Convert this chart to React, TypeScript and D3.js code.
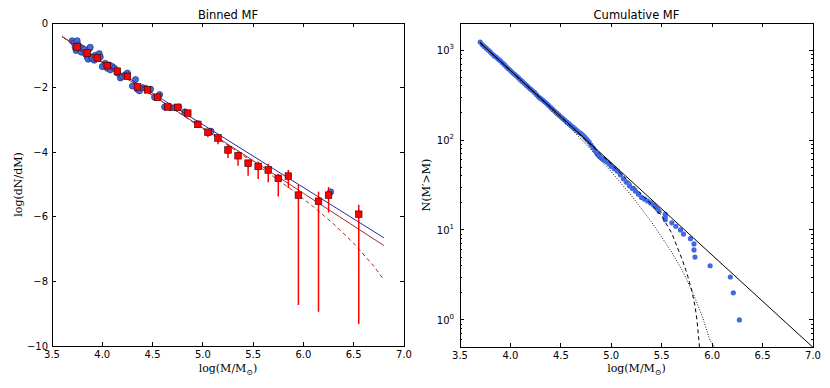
import React from 'react';
import * as d3 from 'd3';

// ---- Binned MF (left panel) ----
const binX = [3.75, 3.85, 3.95, 4.05, 4.15, 4.25, 4.35, 4.45, 4.55, 4.65, 4.75, 4.85, 4.95,
  5.05, 5.15, 5.25, 5.35, 5.45, 5.55, 5.65, 5.75, 5.85, 5.95, 6.15, 6.25, 6.55];
const binY = [-0.74, -0.93, -1.08, -1.32, -1.49, -1.65, -1.98, -2.07, -2.30, -2.60, -2.61, -2.79, -3.14,
  -3.38, -3.56, -3.93, -4.11, -4.34, -4.44, -4.55, -4.81, -4.74, -5.33, -5.52, -5.33, -5.92];
const binHi = [-0.70, -0.88, -1.03, -1.27, -1.44, -1.60, -1.93, -2.02, -2.24, -2.54, -2.54, -2.72, -3.05,
  -3.28, -3.46, -3.77, -3.98, -4.24, -4.29, -4.36, -4.67, -4.55, -5.01, -5.22, -5.08, -5.63];
const binLo = [-0.79, -0.98, -1.14, -1.38, -1.55, -1.71, -2.04, -2.13, -2.37, -2.67, -2.69, -2.87, -3.24,
  -3.54, -3.75, -4.18, -4.42, -4.73, -4.83, -4.93, -5.37, -5.11, -8.73, -8.94, -5.87, -9.32];

const ptX = [3.70, 3.72, 3.73, 3.74, 3.75, 3.76, 3.77, 3.78, 3.79, 3.80, 3.82, 3.83,
  3.85, 3.86, 3.87, 3.88, 3.89, 3.90, 3.92, 3.93, 3.95, 3.97, 3.98,
  4.00, 4.03, 4.05, 4.07, 4.08, 4.10, 4.12,
  4.15, 4.18, 4.20, 4.23, 4.25,
  4.30, 4.33, 4.35, 4.37, 4.40, 4.43, 4.48,
  4.52, 4.55, 4.57, 4.62, 4.68, 4.72, 4.76, 4.82, 4.95, 5.08, 6.27];
const ptY = [-0.55, -0.62, -0.75, -0.85, -0.55, -0.68, -0.80, -0.75, -0.90, -0.78, -0.82, -0.95,
  -1.05, -1.12, -0.80, -0.75, -1.05, -1.10, -1.15, -1.00, -1.10, -0.95, -1.05,
  -1.35, -1.25, -1.40, -1.30, -1.45, -1.35, -1.40,
  -1.55, -1.70, -1.65, -1.60, -1.55,
  -1.95, -1.75, -2.05, -2.10, -2.00, -2.02, -2.05,
  -2.30, -2.28, -2.22, -2.60, -2.62, -2.62, -2.60, -2.75, -3.12, -3.35, -5.23];

const fitX = [3.6, 6.8];
const fitBlueY = [-0.42, -6.65];
const fitRedY = [-0.42, -6.89];
const schX = [3.6, 4.0, 4.5, 5.0, 5.3, 5.5, 5.7, 5.9, 6.1, 6.3, 6.5, 6.7, 6.8];
const schY = [-0.42, -1.23, -2.24, -3.27, -3.89, -4.31, -4.75, -5.20, -5.69, -6.22, -6.82, -7.53, -7.95];

// ---- Cumulative MF (right panel) ----
const cumX = [3.70, 3.72, 3.74, 3.76, 3.78, 3.80, 3.82, 3.84, 3.86, 3.88, 3.90, 3.92, 3.94, 3.96, 3.98,
  4.00, 4.02, 4.04, 4.06, 4.08, 4.10, 4.12, 4.14, 4.16, 4.18, 4.20, 4.22, 4.24, 4.26, 4.28,
  4.30, 4.32, 4.34, 4.36, 4.38, 4.40, 4.42, 4.44, 4.46, 4.48, 4.50, 4.52, 4.54, 4.56, 4.58,
  4.60, 4.62, 4.64, 4.66, 4.68, 4.70, 4.72, 4.74, 4.76, 4.78, 4.80, 4.82, 4.84, 4.86, 4.88,
  4.90, 4.92, 4.94, 4.96, 4.98, 5.00, 5.03, 5.06, 5.09, 5.12, 5.15, 5.18, 5.21, 5.24, 5.27,
  5.30, 5.33, 5.36, 5.39, 5.42, 5.44, 5.46, 5.475,
  5.535, 5.535, 5.535, 5.60, 5.64, 5.686, 5.716, 5.785, 5.82, 5.82, 5.83, 5.98, 6.18, 6.21, 6.27];
const cumN = [1230, 1150, 1096, 1050, 1000, 955, 905, 862, 830, 795, 760, 722, 688, 652, 620,
  590, 562, 538, 515, 490, 466, 445, 425, 405, 385, 368, 352, 336, 318, 300,
  288, 278, 266, 254, 242, 230, 219, 209, 199, 190, 181, 173, 166, 158, 152,
  145, 139, 133, 127, 122, 118, 113, 107, 101, 95, 88, 82, 76, 70, 66,
  63, 61, 59, 57, 54, 51, 48, 45, 41, 37, 34, 31, 29, 27, 25,
  23, 22, 21, 20, 19, 18, 17, 16,
  15, 14, 13, 12, 11, 10, 9, 8, 7, 6, 5, 4, 3, 2, 1];

const powX = [3.7, 7.0];
const powN = [1205, 0.495];
const dashX = [3.70, 4.50, 5.00, 5.20, 5.40, 5.50, 5.60, 5.65, 5.70, 5.75, 5.80, 5.83, 5.85, 5.87, 5.875];
const dashN = [1205, 182, 54, 32.5, 19.1, 14.3, 9.2, 6.6, 4.8, 3.3, 2.07, 1.43, 0.99, 0.57, 0.48];
const dotX = [3.70, 4.30, 4.60, 4.80, 5.00, 5.20, 5.40, 5.60, 5.70, 5.80, 5.90, 5.98, 6.03];
const dotN = [1205, 285, 134, 78, 44.4, 24.1, 12.2, 5.65, 3.62, 2.12, 1.11, 0.59, 0.49];

const xTicks = [3.5, 4.0, 4.5, 5.0, 5.5, 6.0, 6.5, 7.0];
const yTicksL = [0, -2, -4, -6, -8, -10];
const yMajorR = [1, 10, 100, 1000];

const tickFont = 'DejaVu Sans, sans-serif';
const serif = 'DejaVu Serif, serif';

const fmtMinus = (v: number) => (v < 0 ? '\u2212' + Math.abs(v) : String(v));

export default function App() {
  const W = 830, H = 388;
  const xL = d3.scaleLinear().domain([3.5, 7]).range([52, 404]);
  const yL = d3.scaleLinear().domain([-10, 0]).range([346, 23]);
  const xR = d3.scaleLinear().domain([3.5, 7]).range([460, 813]);
  const yR = d3.scaleLog().domain([0.5, 2000]).range([347, 23]);

  const lineL = (xs: number[], ys: number[]) =>
    d3.line<number>().x((d) => xL(d)).y((_, i) => yL(ys[i]))(xs) || '';
  const lineR = (xs: number[], ns: number[]) =>
    d3.line<number>().x((d) => xR(d)).y((_, i) => yR(ns[i]))(xs) || '';

  const minorR: number[] = [];
  [-1, 0, 1, 2, 3].forEach((e) => {
    for (let k = 2; k <= 9; k++) {
      const v = k * Math.pow(10, e);
      if (v > 0.5 && v < 2000) minorR.push(v);
    }
  });

  const [l0, l1] = xL.range();
  const [t0, b0] = [yL(0), yL(-10)];
  const [r0, r1] = xR.range();
  const [t1, b1] = [yR(2000), yR(0.5)];

  return (
    <svg width={W} height={H} style={{ position: 'absolute', left: 0, top: 0, background: '#fff' }}>
      <defs>
        <clipPath id="clipL"><rect x={l0} y={t0} width={l1 - l0} height={b0 - t0} /></clipPath>
        <clipPath id="clipR"><rect x={r0} y={t1} width={r1 - r0} height={b1 - t1} /></clipPath>
      </defs>

      {/* Left panel */}
      <text x={(l0 + l1) / 2} y={19} textAnchor="middle" fontFamily={tickFont} fontSize={11.5}>Binned MF</text>
      <g clipPath="url(#clipL)">
        {ptX.map((x, i) => (
          <circle key={'p' + i} cx={xL(x)} cy={yL(ptY[i])} r={3.1} fill="#4169e1" stroke="#1a2a55" strokeWidth={0.6} />
        ))}
        <path d={lineL(fitX, fitBlueY)} fill="none" stroke="#2b2ba6" strokeWidth={1} />
        <path d={lineL(fitX, fitRedY)} fill="none" stroke="#a52a2a" strokeWidth={1} />
        <path d={lineL(schX, schY)} fill="none" stroke="#a52a2a" strokeWidth={1} strokeDasharray="4,3" />
        {binX.map((x, i) => (
          <line key={'e' + i} x1={xL(x)} x2={xL(x)} y1={yL(binHi[i])} y2={yL(binLo[i])} stroke="#ff0000" strokeWidth={1.5} />
        ))}
        {binX.map((x, i) => (
          <rect key={'s' + i} x={xL(x) - 3.3} y={yL(binY[i]) - 3.3} width={6.6} height={6.6} fill="#ff0000" stroke="#330000" strokeWidth={0.6} />
        ))}
      </g>
      <g shapeRendering="crispEdges" stroke="#000" strokeWidth={1}>
        <rect x={l0} y={t0} width={l1 - l0} height={b0 - t0} fill="none" />
        {xTicks.map((t) => (
          <g key={'xt' + t}>
            <line x1={xL(t)} x2={xL(t)} y1={b0} y2={b0 - 4} />
            <line x1={xL(t)} x2={xL(t)} y1={t0} y2={t0 + 4} />
          </g>
        ))}
        {yTicksL.map((t) => (
          <g key={'yt' + t}>
            <line x1={l0} x2={l0 + 4} y1={yL(t)} y2={yL(t)} />
            <line x1={l1} x2={l1 - 4} y1={yL(t)} y2={yL(t)} />
          </g>
        ))}
      </g>
      {xTicks.map((t) => (
        <text key={'xl' + t} x={xL(t)} y={b0 + 12} textAnchor="middle" fontFamily={tickFont} fontSize={10}>{t.toFixed(1)}</text>
      ))}
      {yTicksL.map((t) => (
        <text key={'yl' + t} x={l0 - 4} y={yL(t) + 3.5} textAnchor="end" fontFamily={tickFont} fontSize={10}>{fmtMinus(t)}</text>
      ))}
      <text x={(l0 + l1) / 2} y={372} textAnchor="middle" fontFamily={serif} fontSize={11}>
        log(M/M<tspan dy={3} fontSize={8}>{'\u2299'}</tspan><tspan dy={-3}>)</tspan>
      </text>
      <text transform={`translate(22,${(t0 + b0) / 2}) rotate(-90)`} textAnchor="middle" fontFamily={serif} fontSize={11}>log(dN/dM)</text>

      {/* Right panel */}
      <text x={(r0 + r1) / 2} y={19} textAnchor="middle" fontFamily={tickFont} fontSize={11.5}>Cumulative MF</text>
      <g clipPath="url(#clipR)">
        {cumX.map((x, i) => (
          <circle key={'c' + i} cx={xR(x)} cy={yR(cumN[i])} r={2.6} fill="#4169e1" />
        ))}
        <path d={lineR(powX, powN)} fill="none" stroke="#000" strokeWidth={1} />
        <path d={lineR(dashX, dashN)} fill="none" stroke="#000" strokeWidth={1} strokeDasharray="4,3" />
        <path d={lineR(dotX, dotN)} fill="none" stroke="#000" strokeWidth={0.9} strokeDasharray="1,1.6" />
      </g>
      <g shapeRendering="crispEdges" stroke="#000" strokeWidth={1}>
        <rect x={r0} y={t1} width={r1 - r0} height={b1 - t1} fill="none" />
        {xTicks.map((t) => (
          <g key={'xtr' + t}>
            <line x1={xR(t)} x2={xR(t)} y1={b1} y2={b1 - 4} />
            <line x1={xR(t)} x2={xR(t)} y1={t1} y2={t1 + 4} />
          </g>
        ))}
        {yMajorR.map((t) => (
          <g key={'ytr' + t}>
            <line x1={r0} x2={r0 + 4} y1={yR(t)} y2={yR(t)} />
            <line x1={r1} x2={r1 - 4} y1={yR(t)} y2={yR(t)} />
          </g>
        ))}
        {minorR.map((t) => (
          <g key={'ymr' + t}>
            <line x1={r0} x2={r0 + 2} y1={yR(t)} y2={yR(t)} />
            <line x1={r1} x2={r1 - 2} y1={yR(t)} y2={yR(t)} />
          </g>
        ))}
      </g>
      {xTicks.map((t) => (
        <text key={'xlr' + t} x={xR(t)} y={b1 + 12} textAnchor="middle" fontFamily={tickFont} fontSize={10}>{t.toFixed(1)}</text>
      ))}
      {yMajorR.map((t) => (
        <text key={'ylr' + t} x={r0 - 6} y={yR(t) + 4} textAnchor="end" fontFamily={tickFont} fontSize={10}>
          10<tspan dy={-5} fontSize={7}>{Math.round(Math.log10(t))}</tspan>
        </text>
      ))}
      <text x={(r0 + r1) / 2} y={372} textAnchor="middle" fontFamily={serif} fontSize={11}>
        log(M/M<tspan dy={3} fontSize={8}>{'\u2299'}</tspan><tspan dy={-3}>)</tspan>
      </text>
      <text transform={`translate(430,${(t1 + b1) / 2}) rotate(-90)`} textAnchor="middle" fontFamily={serif} fontSize={11}>{'N(M\u2032>M)'}</text>
    </svg>
  );
}
